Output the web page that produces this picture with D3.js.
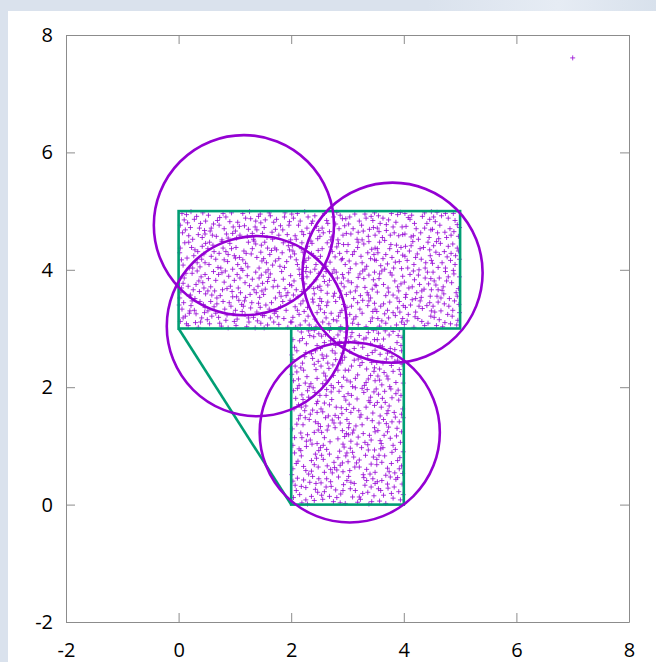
<!DOCTYPE html>
<html>
<head>
<meta charset="utf-8">
<script src="https://cdn.jsdelivr.net/npm/d3@7"></script>
<style>
  html, body { margin: 0; padding: 0; background: #dae2ed; }
  svg { display: block; }
</style>
</head>
<body>
<svg id="chart" width="656" height="662"></svg>
<script>
// ---- data -------------------------------------------------------------
const xTicks = [-2, 0, 2, 4, 6, 8];
const yTicks = [-2, 0, 2, 4, 6, 8];

// outline of the region: two rectangles [x0, y0, x1, y1] and a slanted edge
const upperRect = [0, 3, 5, 5];
const lowerRect = [2, 0, 4, 3];
const slantEdge = [[0, 3], [2, 0]];

// covering circles: centre x, centre y, radius (x units)
const circleCx = [1.16, 1.39, 3.80, 3.04];
const circleCy = [4.76, 3.04, 3.95, 1.23];
const circleR  = [1.60, 1.60, 1.60, 1.60];

// key sample point
const keyPoint = [7.0, 7.61];

// sample points (x, y pairs, in hundredths) inside the upper rectangle
const upperPts = [
3,312,17,305,28,331,41,318,9,344,35,302,22,339,46,327,12,321,38,346,30,310,6,333,44,341,19,326,
55,308,71,319,88,301,63,337,97,325,79,346,52,330,84,314,68,342,93,338,59,321,76,304,
104,316,121,303,139,328,112,341,146,309,128,335,107,348,133,319,118,324,142,343,101,331,125,311,149,322,136,301,115,338,
158,306,173,329,187,317,165,344,194,302,152,322,181,337,169,311,198,348,176,320,161,333,
203,319,217,342,232,306,246,327,211,331,225,313,239,345,208,302,242,316,229,336,214,324,236,300,221,347,
256,311,271,326,288,303,263,339,297,318,279,346,252,333,284,321,267,308,293,341,275,315,259,327,290,331,
304,324,319,307,336,339,311,316,345,329,327,348,302,301,341,312,322,333,348,343,315,320,
357,304,373,318,389,335,364,342,396,311,381,327,352,329,368,309,392,346,377,301,359,338,385,322,371,331,398,317,
406,313,421,328,437,305,412,340,448,321,429,347,403,336,443,309,418,302,433,334,425,317,446,344,
454,319,469,303,487,331,461,345,496,314,478,324,452,338,483,308,472,342,499,327,458,305,490,347,466,330,
4,362,21,357,36,381,13,394,45,369,29,351,8,377,40,388,17,372,33,398,2,352,26,366,48,359,
57,371,74,356,89,389,62,397,95,363,81,379,53,385,68,352,86,368,77,395,99,382,64,364,
103,354,118,378,134,366,147,391,109,386,127,358,141,372,114,399,131,384,106,369,144,353,122,390,138,361,149,377,
154,367,172,352,186,384,163,393,197,375,179,361,158,380,191,356,168,371,183,397,151,358,
205,381,219,363,234,396,247,370,212,354,228,388,241,359,201,373,224,376,238,350,215,392,244,383,
253,365,268,382,286,353,262,397,294,371,277,360,257,389,289,377,273,394,298,358,265,374,282,386,251,351,291,392,
307,378,323,356,338,391,314,364,346,383,331,370,302,395,341,352,319,387,335,361,349,374,311,351,327,398,
356,385,372,369,388,352,361,398,395,376,379,391,353,362,384,381,368,356,391,364,376,395,
404,358,419,383,436,367,411,392,447,355,428,375,401,379,442,396,423,361,438,386,415,371,449,366,431,353,
457,374,471,359,489,393,463,386,497,368,481,351,452,396,476,381,493,361,468,365,485,378,459,355,499,388,474,397,
5,417,19,403,34,431,47,412,11,446,27,424,42,440,2,429,38,405,23,438,15,420,45,427,
54,409,72,428,87,414,61,442,96,401,79,437,58,423,91,445,66,418,84,431,75,403,99,424,52,436,
108,421,123,405,137,444,116,432,148,415,129,427,102,438,143,403,119,411,134,449,111,402,146,430,
156,412,171,437,188,404,162,426,195,441,178,419,153,447,184,429,167,408,199,422,174,434,159,400,192,414,
206,427,223,413,237,445,214,401,248,433,231,420,202,441,244,409,218,436,227,404,240,424,209,417,235,449,221,430,
258,404,273,431,289,417,264,446,296,409,281,439,252,423,286,428,269,413,293,443,276,400,
303,415,318,438,334,406,347,426,312,431,329,444,305,402,341,419,324,423,338,448,315,410,349,437,
354,429,371,410,387,442,363,419,398,425,382,403,357,447,392,414,375,436,366,401,389,431,351,416,379,421,
407,403,424,427,439,412,413,441,446,434,431,418,402,423,443,447,418,409,435,438,427,400,449,416,410,432,
453,441,468,412,484,428,461,404,495,437,477,422,458,448,491,409,472,431,499,418,463,426,487,444,
3,476,18,458,32,491,46,467,10,485,25,452,39,479,7,463,43,497,21,472,35,460,14,494,48,483,
56,466,73,489,88,454,62,478,94,497,81,470,53,493,85,461,69,484,97,473,77,451,60,459,
105,481,122,457,136,473,114,496,149,462,128,487,101,466,142,491,117,475,133,452,146,480,109,459,126,499,139,468,
157,455,169,481,185,468,163,492,196,476,178,459,152,472,189,497,174,486,199,451,166,464,
204,488,219,465,236,479,247,453,211,496,228,471,242,492,207,458,233,462,216,483,245,474,224,499,
255,471,272,456,287,493,263,484,298,462,279,478,251,457,291,487,268,465,283,451,259,496,295,475,275,490,
306,461,321,483,337,457,313,495,346,472,328,466,302,478,342,491,317,452,333,488,349,459,325,476,
355,492,369,467,386,481,362,455,397,473,378,496,353,471,391,458,373,485,383,463,358,479,394,498,366,450,
404,474,417,458,433,491,448,468,411,486,426,452,441,479,402,461,437,497,422,470,445,455,414,493,
456,482,473,464,488,496,462,453,495,477,479,488,451,469,484,459,467,492,499,472,476,455,459,498,491,484,
14,308,31,325,47,336,24,347,8,318,39,311,1,340,20,330,66,326,82,333,99,312,57,346,73,309,90,344,51,315,86,323,
113,329,130,344,145,336,102,305,124,318,140,313,117,347,163,318,178,307,191,331,155,340,185,346,170,326,199,311,152,301,
207,337,223,329,244,303,249,339,230,321,201,311,216,306,262,318,281,313,299,336,254,346,270,301,287,327,265,345,
307,338,333,303,344,318,326,326,309,309,338,347,318,344,349,333,354,317,366,325,387,306,399,339,375,345,361,313,393,328,
408,324,432,312,441,339,415,349,401,307,427,338,449,330,420,320,463,315,480,338,494,306,455,328,486,321,473,310,498,341,
10,386,24,394,43,378,37,363,5,369,19,355,47,392,31,375,52,364,71,392,92,372,59,357,83,398,78,366,96,354,66,382,
110,361,126,373,148,364,137,396,119,353,104,392,143,386,160,387,176,372,194,361,155,396,182,355,170,382,199,390,189,368,
209,366,233,371,249,394,219,385,204,357,240,368,226,397,259,380,275,355,293,386,280,396,264,360,251,372,287,364,
305,362,317,371,344,367,329,385,301,381,337,357,322,393,348,396,364,375,381,357,398,389,357,393,373,362,389,371,351,373,
409,369,426,391,444,376,403,353,432,364,417,398,448,385,421,351,461,366,479,388,495,355,454,381,470,371,488,399,466,352,
8,408,29,434,41,418,18,447,33,412,3,437,48,445,25,403,63,431,81,417,94,436,55,447,70,404,88,426,77,448,
114,417,131,436,147,442,105,409,124,447,139,421,120,428,101,420,165,433,180,406,197,434,151,419,186,446,172,415,158,437,
211,409,229,440,246,419,203,432,236,428,219,446,242,401,226,416,255,436,278,422,299,431,262,406,284,445,270,439,291,419,
309,426,326,412,343,435,301,443,331,401,348,417,319,447,336,429,359,407,377,443,395,438,368,426,385,413,353,436,396,402,
406,416,429,436,447,424,416,448,438,403,403,440,421,421,457,430,474,403,492,424,465,445,483,416,497,432,451,411,479,440,
12,468,28,486,42,455,6,496,37,471,22,499,47,461,16,480,67,457,91,482,58,471,79,496,96,462,72,476,84,490,
108,474,131,462,145,495,119,488,137,483,103,454,124,469,161,497,181,475,193,460,154,485,172,469,188,490,167,452,197,482,
213,476,230,490,249,467,209,452,238,483,222,460,201,495,265,479,281,498,297,487,257,463,285,470,270,451,292,459,
310,470,331,495,345,484,319,464,304,490,339,469,326,451,348,497,363,488,381,473,398,460,356,465,376,459,389,494,369,477,
408,489,430,463,446,486,419,479,402,496,437,471,413,456,449,499,464,476,482,470,497,457,453,490,474,496,489,465,460,463
];

// sample points (x, y pairs, in hundredths) inside the lower rectangle
const lowerPts = [
204,12,219,3,233,38,247,21,211,45,226,29,241,7,207,33,238,48,215,17,229,1,244,36,222,42,
256,9,271,31,288,18,263,44,296,2,279,25,253,37,284,47,268,14,293,34,275,5,259,22,
305,27,318,4,334,41,347,15,312,36,327,19,302,48,342,30,323,9,338,1,309,13,345,44,331,33,
357,6,372,28,386,43,364,16,397,35,381,11,353,39,391,22,376,47,368,2,383,30,359,24,
203,61,218,83,236,57,249,92,212,74,227,99,241,68,206,88,231,52,245,79,222,65,214,95,
257,77,273,54,286,91,264,66,297,83,281,59,252,97,291,71,268,86,277,63,259,55,294,98,283,80,
304,58,321,76,337,93,313,64,346,81,328,51,309,89,342,69,325,97,334,60,301,73,349,55,
356,84,371,62,389,75,363,97,398,53,379,89,352,68,393,80,374,56,385,94,361,72,368,50,396,66,
206,114,221,136,237,103,248,127,213,146,229,119,243,141,202,129,234,110,217,122,246,104,225,148,
254,123,269,107,287,139,261,148,295,116,278,131,257,101,291,126,273,144,283,112,266,134,299,145,
303,138,319,115,336,102,311,127,344,143,328,121,306,108,348,131,322,149,339,118,315,134,331,106,302,119,
358,109,373,132,387,117,364,145,396,124,381,101,354,126,392,141,376,113,369,138,385,149,360,104,
205,163,219,187,234,154,247,176,211,198,226,168,242,191,208,181,238,161,216,152,229,194,245,172,221,179,
256,158,272,179,289,165,263,196,294,184,278,152,251,186,285,193,268,170,298,162,275,199,259,173,
307,186,320,160,338,177,314,199,345,156,329,191,303,171,341,183,324,153,335,196,311,164,348,169,
353,174,370,155,386,189,362,181,398,163,377,197,358,151,391,178,374,168,383,157,366,193,395,186,351,197,
204,211,217,233,235,206,248,244,210,226,228,218,241,239,203,247,232,201,222,229,246,215,214,203,
258,224,271,203,288,241,262,212,296,229,279,247,253,236,284,208,267,232,293,217,275,220,257,249,290,201,
305,209,322,237,337,214,312,246,347,227,330,203,302,229,343,242,318,221,334,231,309,201,349,211,
357,231,372,214,389,246,361,204,394,222,378,237,354,219,386,208,369,248,381,227,397,239,365,225,352,242,
206,268,220,283,236,257,249,291,212,299,227,274,243,262,201,255,231,296,215,279,240,286,224,252,
254,287,273,262,286,278,263,253,297,294,279,271,252,266,291,258,268,297,283,289,259,276,295,251,276,283,
304,261,321,288,336,254,313,279,346,297,327,268,308,293,341,274,324,251,333,284,302,278,349,263,
355,292,371,258,388,276,362,269,397,285,379,252,353,281,392,298,374,289,384,264,358,256,367,296,395,271,
209,24,236,14,249,44,218,31,226,8,243,26,203,40,262,30,281,12,299,41,254,16,287,3,270,39,292,24,
314,24,329,46,343,5,306,38,336,21,321,13,349,36,361,41,378,19,394,8,355,27,389,46,371,35,399,17,
209,70,226,58,243,86,217,92,236,75,201,51,248,64,263,94,276,72,292,56,254,84,287,67,270,60,299,88,
316,71,332,84,348,93,305,96,340,52,321,64,311,81,359,95,378,70,392,61,366,83,384,54,352,77,399,90,
210,137,227,108,241,123,203,101,232,145,219,114,248,138,259,114,276,139,292,103,264,127,284,148,252,133,298,121,
309,122,326,136,342,110,317,103,335,147,302,131,349,124,365,118,379,141,394,106,356,139,388,130,371,124,399,148,
213,170,231,183,246,157,204,194,224,160,239,199,218,166,262,186,280,166,297,178,253,163,271,192,290,155,266,151,
317,180,333,166,347,192,306,157,326,198,340,174,301,189,360,166,379,182,396,154,367,174,355,188,390,195,372,160,
207,236,225,207,244,230,213,214,238,249,220,241,201,222,265,241,283,229,299,212,256,206,274,238,291,246,261,219,
314,215,326,242,341,220,307,236,333,208,348,233,319,248,363,241,375,201,392,230,357,212,384,244,370,219,399,207,
210,262,233,288,246,271,218,294,226,259,203,281,241,297,261,290,278,258,293,271,255,255,287,296,270,279,297,284,
312,266,329,282,344,259,306,286,337,293,319,274,348,281,364,282,381,295,396,262,358,271,376,266,390,288,352,299
];

// ---- layout -----------------------------------------------------------
const PURPLE = "#9400d3";
const GREEN = "#009e73";
const FRAME = "#8c8c8c";
const plot = { left: 66, right: 629, top: 35, bottom: 622 };

const svg = d3.select("#chart");

// page backdrop with a faint sheen along the top right
const defs = svg.append("defs");
const sheen = defs.append("linearGradient").attr("id", "sheen")
  .attr("x1", "0").attr("y1", "0").attr("x2", "1").attr("y2", "0");
sheen.append("stop").attr("offset", "0").attr("stop-color", "#dae2ed");
sheen.append("stop").attr("offset", "0.65").attr("stop-color", "#dae2ed");
sheen.append("stop").attr("offset", "0.85").attr("stop-color", "#e6ecf4");
sheen.append("stop").attr("offset", "1").attr("stop-color", "#d8e1ec");
svg.append("rect").attr("width", 656).attr("height", 662).attr("fill", "url(#sheen)");
svg.append("rect").attr("x", 8).attr("y", 11).attr("width", 648).attr("height", 651).attr("fill", "#ffffff");

const x = d3.scaleLinear().domain([-2, 8]).range([plot.left, plot.right]);
const y = d3.scaleLinear().domain([-2, 8]).range([plot.bottom, plot.top]);

// ---- axes (ticks point inward, mirrored on all sides) -----------------
const fmt = d => String(d);
const tickLen = 9;
const font = "'Open Sans', 'Noto Sans', sans-serif";

function styleAxis(g) {
  g.select(".domain").attr("stroke", FRAME).attr("stroke-width", 1);
  g.selectAll(".tick line").attr("stroke", FRAME).attr("stroke-width", 1);
  g.selectAll(".tick text").attr("fill", "#000000")
    .style("font-family", font).style("font-size", "20px");
}

svg.append("g").attr("transform", `translate(0,${plot.bottom})`)
  .call(d3.axisBottom(x).tickValues(xTicks).tickFormat(fmt)
    .tickSizeInner(-tickLen).tickSizeOuter(0).tickPadding(21))
  .call(styleAxis);
svg.append("g").attr("transform", `translate(0,${plot.top})`)
  .call(d3.axisTop(x).tickValues(xTicks).tickFormat("")
    .tickSizeInner(-tickLen).tickSizeOuter(0))
  .call(styleAxis);
svg.append("g").attr("transform", `translate(${plot.left},0)`)
  .call(d3.axisLeft(y).tickValues(yTicks).tickFormat(fmt)
    .tickSizeInner(-tickLen).tickSizeOuter(0).tickPadding(13))
  .call(styleAxis);
svg.append("g").attr("transform", `translate(${plot.right},0)`)
  .call(d3.axisRight(y).tickValues(yTicks).tickFormat("")
    .tickSizeInner(-tickLen).tickSizeOuter(0))
  .call(styleAxis);

// ---- sample points ----------------------------------------------------
function pairs(flat) {
  const out = [];
  for (let i = 0; i < flat.length; i += 2) out.push([flat[i] / 100, flat[i + 1] / 100]);
  return out;
}
const samples = pairs(upperPts).concat(pairs(lowerPts));
samples.push(keyPoint);

const plus = "M-2.5,0H2.5M0,-2.5V2.5";
svg.append("g").attr("class", "samples")
  .attr("stroke", PURPLE).attr("stroke-width", 1).attr("stroke-opacity", 0.78)
  .selectAll("path").data(samples).join("path")
  .attr("d", plus)
  .attr("transform", d => `translate(${x(d[0])},${y(d[1])})`);

// ---- region outline ---------------------------------------------------
const outline = svg.append("g").attr("fill", "none")
  .attr("stroke", GREEN).attr("stroke-width", 2.6).attr("stroke-linejoin", "miter");
[upperRect, lowerRect].forEach(r => {
  outline.append("rect")
    .attr("x", x(r[0])).attr("y", y(r[3]))
    .attr("width", x(r[2]) - x(r[0])).attr("height", y(r[1]) - y(r[3]));
});
outline.append("path")
  .attr("d", d3.line().x(d => x(d[0])).y(d => y(d[1]))(slantEdge));

// ---- covering circles (round on screen, radius measured along x) ------
const circles = circleCx.map((cx, i) => ({ cx, cy: circleCy[i], r: circleR[i] }));
svg.append("g").attr("fill", "none").attr("stroke", PURPLE).attr("stroke-width", 2.6)
  .selectAll("circle").data(circles).join("circle")
  .attr("cx", d => x(d.cx)).attr("cy", d => y(d.cy))
  .attr("r", d => x(d.r) - x(0));
</script>
</body>
</html>
